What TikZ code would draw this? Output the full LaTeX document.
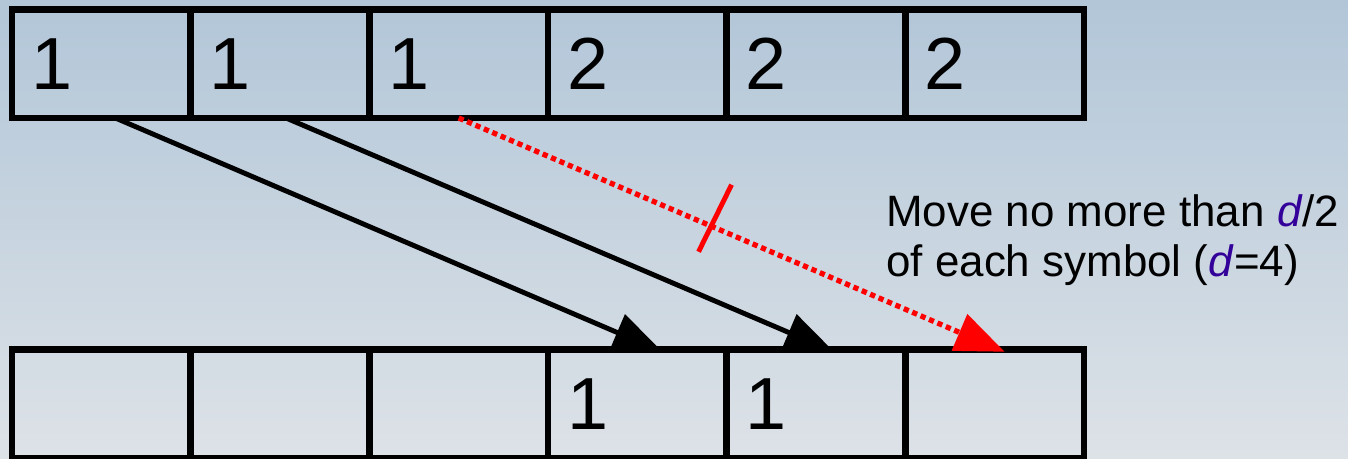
\documentclass[tikz,border=0pt]{standalone}
\usepackage{fontspec}
\setmainfont{Liberation Sans}
\usetikzlibrary{arrows.meta,positioning,calc}
\definecolor{skytop}{RGB}{178,198,216}
\definecolor{skybot}{RGB}{221,226,231}
\definecolor{dblue}{RGB}{51,0,153}
\tikzset{
  cell/.style={draw=black, line width=3.8pt, outer sep=0pt, minimum width=3.574cm, minimum height=2.17cm,
    text width=2.814cm, inner xsep=0.38cm, inner ysep=0pt, align=left, font=\fontsize{42}{48}\selectfont},
  move/.style={-{Triangle[length=28pt,width=22pt]}, line width=2.8pt, black},
  badmove/.style={-{Triangle[length=28pt,width=22pt]}, line width=3pt, red, dash pattern=on 3pt off 2.2pt},
  cut/.style={red, line width=2.8pt},
  note/.style={font=\fontsize{25}{28.5}\selectfont, align=left, inner sep=0pt}
}
\begin{document}
\begin{tikzpicture}[x=0.02cm, y=-0.02cm]
  \shade[top color=skytop, bottom color=skybot] (0,0) rectangle (1348,458);
  \useasboundingbox (0,0) rectangle (1348,458);
  \node[cell] (t1) at (101.35,63.75) {1};
  \foreach \i/\j/\s in {2/1/1,3/2/1,4/3/2,5/4/2,6/5/2}
    \node[cell, right=0pt of t\j] (t\i) {\s};
  \node[cell] (b1) at (101.35,404) {};
  \foreach \i/\j/\s in {2/1/{},3/2/{},4/3/1,5/4/1,6/5/{}}
    \node[cell, right=0pt of b\j] (b\i) {\s};
  \draw[move] ($(t1.south)+(14,0)$) -- ($(b4.north)+(25,2)$);
  \draw[move] ($(t2.south)+(6,0)$) -- ($(b5.north)+(18,2)$);
  \draw[badmove] (t3.south) -- coordinate[pos=0.465] (hit) ($(b6.north)+(10,2)$);
  \draw[cut] ($(hit)+(19,-42)$) -- ($(hit)+(-14,25)$);
  \node[note, anchor=north west] (note) at (886,194)
    {Move no more than \textcolor{dblue}{\textit{d}}/2\\of each symbol (\textcolor{dblue}{\textit{d}}=4)};
\end{tikzpicture}
\end{document}
